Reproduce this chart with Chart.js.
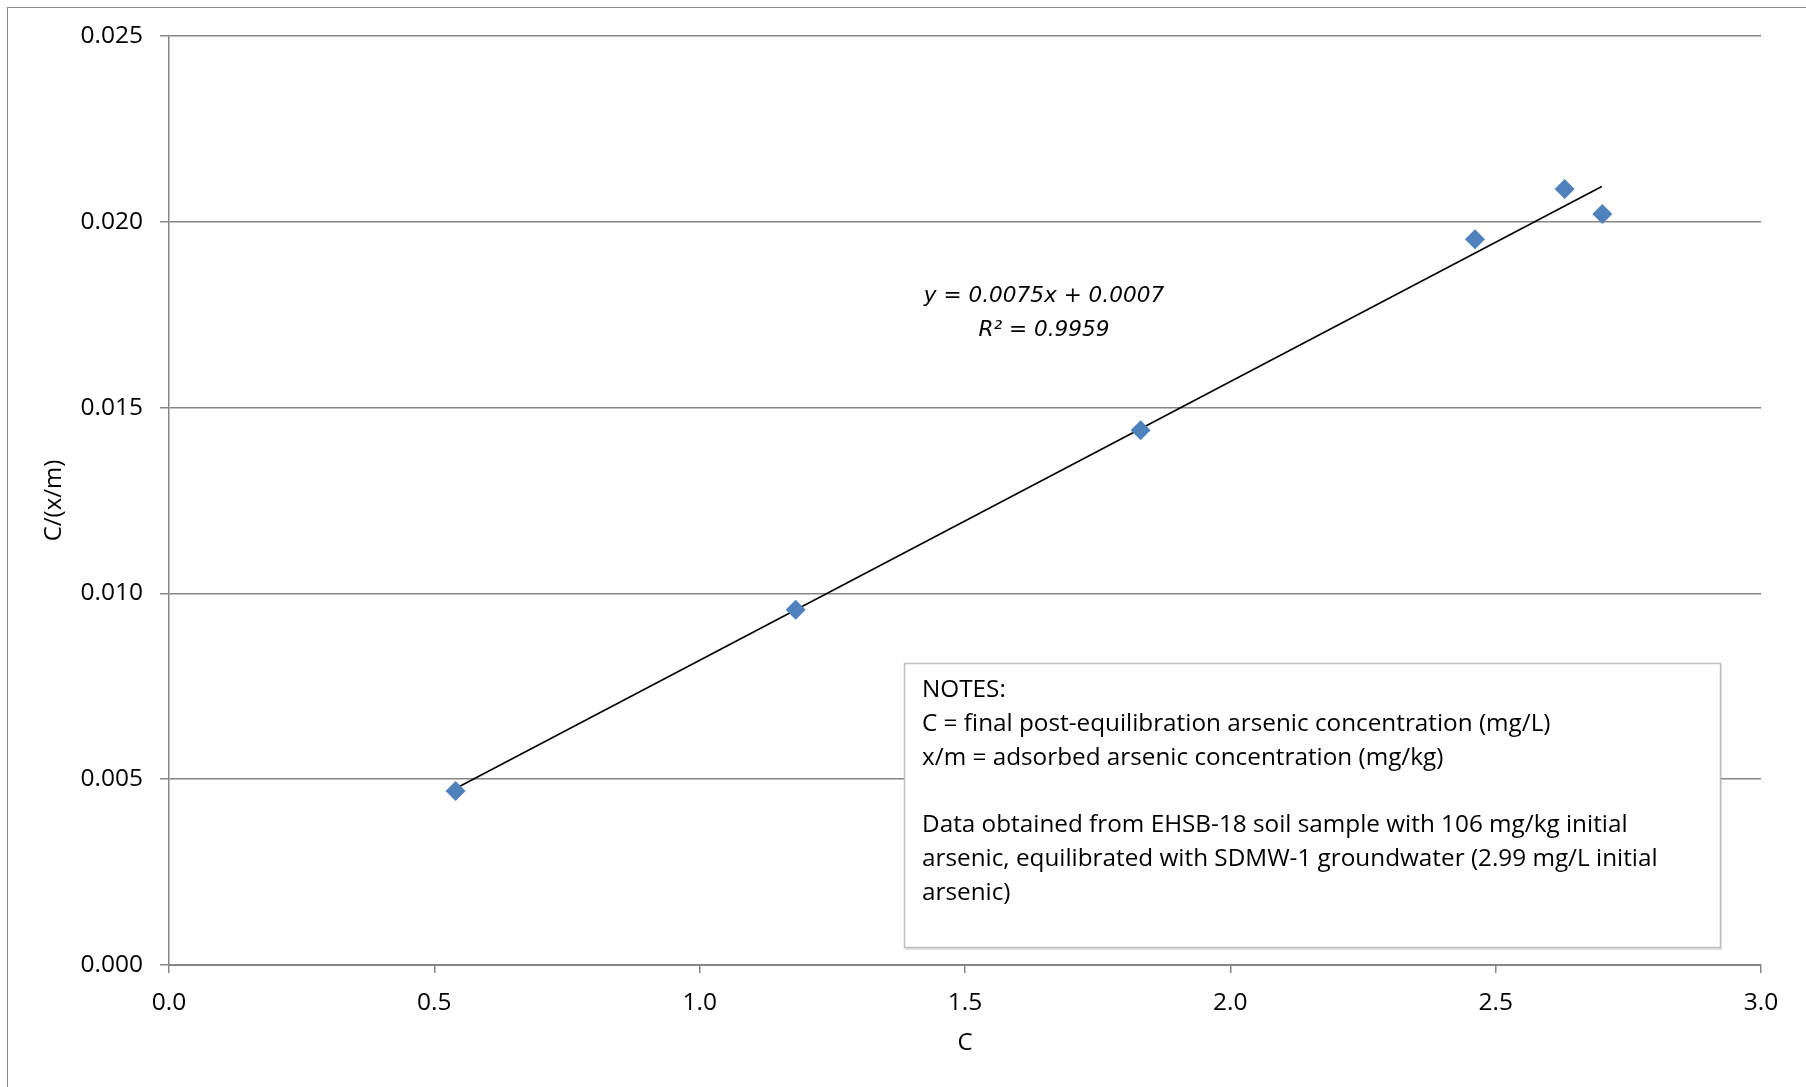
<!DOCTYPE html>
<html>
<head>
<meta charset="utf-8">
<script src="https://cdn.jsdelivr.net/npm/chart.js@4.4.1/dist/chart.umd.min.js"></script>
<style>
  html, body { margin: 0; padding: 0; background: #fff; }
  #wrap { width: 1806px; height: 1087px; position: relative; }
</style>
</head>
<body>
<div id="wrap"><canvas id="myChart" width="1806" height="1087"></canvas></div>
<script>
// measured points, C vs C/(x/m)
const cValues = [0.540, 1.181, 1.831, 2.461, 2.630, 2.701]
const cxmValues = [0.00468, 0.00956, 0.01439, 0.01953, 0.02088, 0.02021]

// trendline ends
const trendX = [0.54, 2.70]
const trendY = [0.00475, 0.02095]

const xTicks = [0.0, 0.5, 1.0, 1.5, 2.0, 2.5, 3.0]
const yTicks = [0.000, 0.005, 0.010, 0.015, 0.020, 0.025]

const equationLines = ["y = 0.0075x + 0.0007", "R\u00b2 = 0.9959"]
const notesLines = [
    "NOTES:",
    "C = final post-equilibration arsenic concentration (mg/L)",
    "x/m = adsorbed arsenic concentration (mg/kg)",
    "",
    "Data obtained from EHSB-18 soil sample with 106 mg/kg initial",
    "arsenic, equilibrated with SDMW-1 groundwater (2.99 mg/L initial",
    "arsenic)"
]

const fontName = "'Open Sans', Lato, sans-serif"
const eqFont = "'DejaVu Sans', 'Open Sans', sans-serif"
const gridGray = "#868686"

function toPoints(xs, ys) {
    return xs.map(function (x, i) { return { x: x, y: ys[i] } })
}

const extrasPlugin = {
    id: "extras",
    beforeDraw(chart) {
        const ctx = chart.ctx
        ctx.save()
        ctx.fillStyle = "#fff"
        ctx.fillRect(0, 0, chart.width, chart.height)
        ctx.strokeStyle = "#8c8c8c"
        ctx.lineWidth = 1
        ctx.strokeRect(7.5, 7.5, chart.width + 10, chart.height + 10)
        ctx.restore()
    },
    afterDraw(chart) {
        const ctx = chart.ctx
        ctx.save()
        // equation
        ctx.fillStyle = "#000"
        ctx.font = "oblique 21.6px " + eqFont
        ctx.textAlign = "center"
        ctx.textBaseline = "middle"
        ctx.fillText(equationLines[0], 1044, 296)
        ctx.fillText(equationLines[1], 1044, 330)

        // notes box
        ctx.fillStyle = "rgba(0,0,0,0.12)"
        ctx.fillRect(905, 664, 817, 286)
        ctx.fillStyle = "#fff"
        ctx.fillRect(904, 663, 817, 285)
        ctx.strokeStyle = "#bfbfbf"
        ctx.lineWidth = 1.5
        ctx.strokeRect(904.5, 663.5, 816, 284)

        ctx.fillStyle = "#000"
        ctx.font = "24.3px " + fontName
        ctx.textAlign = "left"
        for (let i = 0; i < notesLines.length; i++) {
            ctx.fillText(notesLines[i], 922, 690 + i * 33.8)
        }
        ctx.restore()
    }
}

function graphGenerator() {
    const ctx = document.getElementById("myChart").getContext("2d")
    return new Chart(ctx, {
        type: "scatter",
        data: {
            datasets: [{
                label: "C/(x/m)",
                data: toPoints(cValues, cxmValues),
                pointStyle: "rectRot",
                pointRadius: 10,
                pointHoverRadius: 10,
                backgroundColor: "#4F81BD",
                borderColor: "#4F81BD",
                borderWidth: 0,
                order: 1
            }, {
                label: "Linear (C/(x/m))",
                type: "line",
                data: toPoints(trendX, trendY),
                borderColor: "#000",
                borderWidth: 1.6,
                pointRadius: 0,
                fill: false,
                order: 2
            }]
        },
        options: {
            responsive: false,
            animation: false,
            layout: { padding: { left: 0, right: 45, top: 36, bottom: 0 } },
            plugins: {
                legend: { display: false },
                tooltip: { enabled: false }
            },
            scales: {
                x: {
                    type: "linear",
                    min: 0,
                    max: 3,
                    afterBuildTicks: function (scale) {
                        scale.ticks = xTicks.map(function (v) { return { value: v } })
                    },
                    afterFit: function (scale) { scale.height = 122 },
                    ticks: {
                        color: "#000",
                        font: { family: fontName, size: 24.5 },
                        padding: 15,
                        maxRotation: 0,
                        callback: function (v) { return Number(v).toFixed(1) }
                    },
                    grid: {
                        drawOnChartArea: false,
                        drawTicks: true,
                        tickLength: 8,
                        color: gridGray,
                        lineWidth: 1.5
                    },
                    border: { display: true, color: gridGray, width: 2 },
                    title: {
                        display: true,
                        text: "C",
                        color: "#000",
                        font: { family: fontName, size: 24 },
                        padding: { top: 0, bottom: 29 }
                    }
                },
                y: {
                    type: "linear",
                    min: 0,
                    max: 0.025,
                    afterBuildTicks: function (scale) {
                        scale.ticks = yTicks.map(function (v) { return { value: v } })
                    },
                    afterFit: function (scale) { scale.width = 169 },
                    ticks: {
                        color: "#000",
                        font: { family: fontName, size: 24.5 },
                        padding: 17,
                        callback: function (v) { return Number(v).toFixed(3) }
                    },
                    grid: {
                        drawOnChartArea: true,
                        drawTicks: true,
                        tickLength: 9,
                        color: gridGray,
                        lineWidth: 1.5
                    },
                    border: { display: true, color: gridGray, width: 1.5 },
                    title: {
                        display: true,
                        text: "C/(x/m)",
                        color: "#000",
                        font: { family: fontName, size: 24 },
                        padding: { top: 40, bottom: 0 }
                    }
                }
            }
        },
        plugins: [extrasPlugin]
    })
}

graphGenerator()
</script>
</body>
</html>
